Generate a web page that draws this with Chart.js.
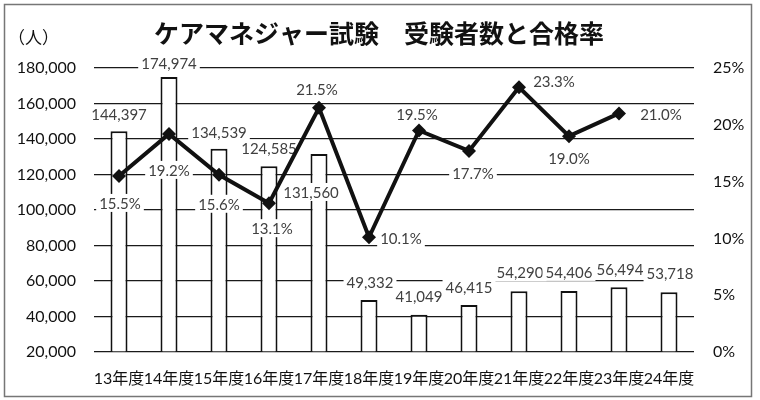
<!DOCTYPE html>
<html>
<head>
<meta charset="utf-8">
<script src="https://cdn.jsdelivr.net/npm/chart.js@4.4.1/dist/chart.umd.min.js"></script>
<style>
html,body{margin:0;padding:0;background:#fff;}
#wrap{width:760px;height:400px;position:relative;}
</style>
</head>
<body>
<div id="wrap"><canvas id="c" width="760" height="400"></canvas></div>
<script>
// ---- data ----
const categories = ['13年度','14年度','15年度','16年度','17年度','18年度','19年度','20年度','21年度','22年度','23年度','24年度'];
const examinees = [144397, 174974, 134539, 124585, 131560, 49332, 41049, 46415, 54290, 54406, 56494, 53718];
const passRate = [15.5, 19.2, 15.6, 13.1, 21.5, 10.1, 19.5, 17.7, 23.3, 19.0, 21.0, null];
const leftTicks = [20000, 40000, 60000, 80000, 100000, 120000, 140000, 160000, 180000];
const rightTicks = [0, 5, 10, 15, 20, 25];
const titleText = 'ケアマネジャー試験　受験者数と合格率';
const unitText = '（人）';

// ---- label placement (offsets of label centre from the mark, px) ----
const barLabelOffset = [[0,-17],[0,-14],[0,-17],[0,-18],[-8,38],[1,-18],[0,-18],[0,-18],[1,-19],[0,-19],[1,-18],[1,-19]];
const rateLabelOffset = [[1,27],[0,36],[0,29],[3,25],[-2,-19],[32,1],[-2,-16],[4,22],[35,-6],[0,22],[42,1],[0,0]];

const NUM_FONT = "Lato, 'Noto Sans CJK JP', sans-serif";

const fmt = v => v.toLocaleString('en-US');

const frame = {
  id: 'frame',
  beforeDraw(chart) {
    const ctx = chart.ctx;
    ctx.save();
    ctx.fillStyle = '#fff';
    ctx.fillRect(0, 0, chart.width, chart.height);
    ctx.restore();
  },
  afterDraw(chart) {
    const ctx = chart.ctx;
    ctx.save();
    ctx.strokeStyle = '#767676';
    ctx.lineWidth = 1.5;
    ctx.strokeRect(4.5, 4.5, 747, 392);
    ctx.fillStyle = '#111';
    ctx.font = "17px 'Noto Sans CJK JP', sans-serif";
    ctx.textBaseline = 'middle';
    ctx.textAlign = 'left';
    ctx.fillText(unitText, 8, 38);
    ctx.restore();
  }
};

function drawBoxLabel(ctx, text, x, y) {
  ctx.font = '15px ' + NUM_FONT;
  const w = ctx.measureText(text).width;
  ctx.fillStyle = '#fff';
  ctx.fillRect(x - w / 2 - 3, y - 9, w + 6, 18);
  ctx.fillStyle = '#404040';
  ctx.textAlign = 'center';
  ctx.textBaseline = 'middle';
  ctx.fillText(text, x, y + 1);
}

const labels = {
  id: 'valueLabels',
  afterDatasetDraw(chart, args) {
    if (args.index !== 0) return;
    const ctx = chart.ctx;
    ctx.save();
    const barMeta = chart.getDatasetMeta(0);
    barMeta.data.forEach((el, i) => {
      const o = barLabelOffset[i];
      drawBoxLabel(ctx, fmt(examinees[i]), el.x + o[0], el.y + o[1]);
    });
    const lineMeta = chart.getDatasetMeta(1);
    lineMeta.data.forEach((el, i) => {
      if (passRate[i] == null) return;
      const o = rateLabelOffset[i];
      drawBoxLabel(ctx, passRate[i].toFixed(1) + '%', el.x + o[0], el.y + o[1]);
    });
    ctx.restore();
  }
};

new Chart(document.getElementById('c'), {
  type: 'bar',
  data: {
    labels: categories,
    datasets: [
      {
        type: 'bar',
        label: '受験者数',
        data: examinees,
        yAxisID: 'y',
        backgroundColor: '#fff',
        borderColor: '#111',
        borderWidth: 2,
        borderSkipped: 'start',
        base: leftTicks[0],
        barPercentage: 0.34,
        categoryPercentage: 1,
        order: 2
      },
      {
        type: 'line',
        label: '合格率',
        data: passRate,
        yAxisID: 'y1',
        borderColor: '#111',
        backgroundColor: '#111',
        borderWidth: 4,
        pointStyle: 'rectRot',
        pointRadius: 7,
        pointHoverRadius: 7,
        pointBorderWidth: 0,
        tension: 0,
        clip: false,
        order: 1
      }
    ]
  },
  options: {
    responsive: false,
    animation: false,
    events: [],
    layout: { padding: { left: 4, right: 6, top: 0, bottom: 0 } },
    plugins: {
      legend: { display: false },
      tooltip: { enabled: false },
      title: {
        display: true,
        text: titleText,
        color: '#111',
        font: { family: "'Noto Sans CJK JP', sans-serif", size: 25, weight: 'bold', lineHeight: 1.2 },
        padding: { top: 18, bottom: 20 }
      }
    },
    scales: {
      x: {
        grid: { display: false, drawTicks: false },
        border: { display: false },
        ticks: { color: '#111', font: { family: NUM_FONT, size: 16 }, padding: 17, autoSkip: false, maxRotation: 0 },
        afterFit(s) { s.height = 48; }
      },
      y: {
        position: 'left',
        min: leftTicks[0],
        max: leftTicks[leftTicks.length - 1],
        afterBuildTicks(s) { s.ticks = leftTicks.map(v => ({ value: v })); },
        grid: { color: '#1a1a1a', lineWidth: 1.2, drawTicks: false },
        border: { display: false },
        ticks: { color: '#111', font: { family: NUM_FONT, size: 16 }, padding: 18, callback: v => fmt(v) },
        afterFit(s) { s.width = 90; }
      },
      y1: {
        position: 'right',
        min: rightTicks[0],
        max: rightTicks[rightTicks.length - 1],
        afterBuildTicks(s) { s.ticks = rightTicks.map(v => ({ value: v })); },
        grid: { display: false, drawTicks: false },
        border: { display: false },
        ticks: { color: '#111', font: { family: NUM_FONT, size: 16 }, padding: 19, callback: v => v + '%' },
        afterFit(s) { s.width = 60; }
      }
    }
  },
  plugins: [frame, labels]
});
</script>
</body>
</html>
